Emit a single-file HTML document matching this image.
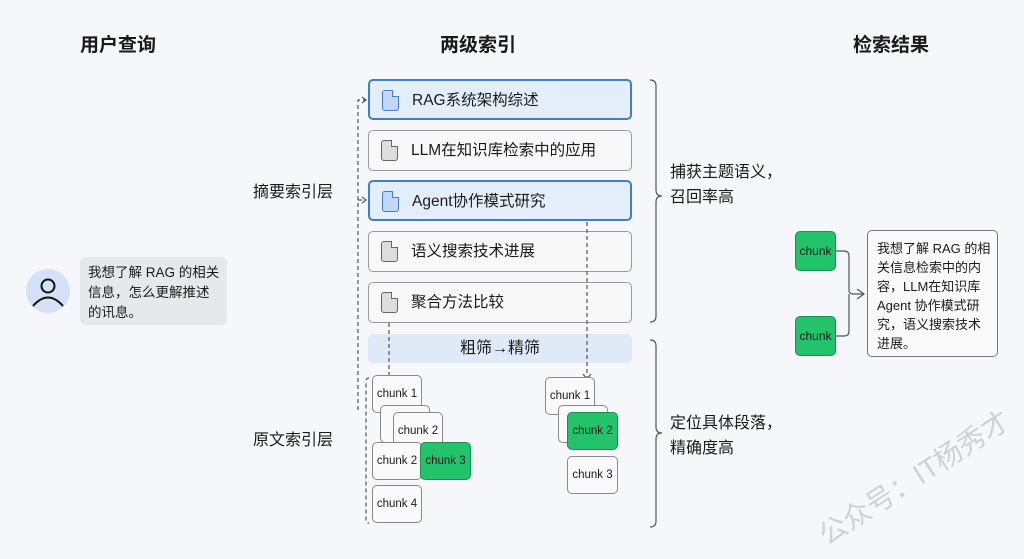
<!DOCTYPE html>
<html><head><meta charset="utf-8"><style>
*{margin:0;padding:0;box-sizing:border-box}
html{width:1024px;height:559px;overflow:hidden}
body{width:1024px;height:559px;background:#f5f7fa;position:relative;overflow:hidden;font-family:"Liberation Sans","Noto Sans CJK SC",sans-serif;color:#1a1a1a}
.a{position:absolute}
.h{font-size:19px;font-weight:bold;top:30px}
.doc{position:absolute;left:368px;width:264px;height:41px;border:1.3px solid #9a9a9a;border-radius:5px;background:#f8f8f8;font-size:15.5px;line-height:39px;padding-left:42px}
.doc.s{border:2px solid #3d7fc9;background:#e4eefb}
.doc i{position:absolute;left:12px;top:9px;width:17px;height:21px;border:1.3px solid #666;border-radius:3px;background:#ddd}
.doc.s i{background:#c4d8f4;border-color:#3d7fc9}
.doc i:after{content:"";position:absolute;right:-1px;top:-1px;width:6px;height:6px;background:#f8f8f8;border-left:1.3px solid #666;border-bottom:1.3px solid #666}
.doc.s i:after{background:#e4eefb;border-color:#3d7fc9}
.c{position:absolute;width:50px;height:38px;border:1.2px solid #8a8a8a;border-radius:5px;background:#fafafa;font-size:11.5px;line-height:36px;text-align:center}
.g{background:#22c36b;border-color:#15934f}
.t{font-size:16px;line-height:25px}
</style></head><body>
<div class="a h" style="left:80px">用户查询</div>
<div class="a h" style="left:440px">两级索引</div>
<div class="a h" style="left:853px">检索结果</div>

<div class="a" style="left:26px;top:269px;width:44px;height:44px;border-radius:50%;background:#d3e2f6"></div>
<svg class="a" style="left:26px;top:269px" width="44" height="44"><circle cx="22" cy="17" r="6.5" fill="none" stroke="#111" stroke-width="2"/><path d="M7 37 Q22 20 37 37" fill="none" stroke="#111" stroke-width="2"/></svg>
<div class="a" style="left:80px;top:257px;width:147px;height:68px;background:#e6e8ec;border-radius:6px;padding:6px 0 0 8px;font-size:13.5px;line-height:20px;white-space:nowrap">我想了解 RAG 的相关<br>信息，怎么更解推述<br>的讯息。</div>

<div class="a" style="left:253px;top:178px;font-size:16px">摘要索引层</div>
<div class="a" style="left:253px;top:426px;font-size:16px">原文索引层</div>

<div class="doc s" style="top:79px"><i></i>RAG系统架构综述</div>
<div class="doc" style="top:130px"><i></i>LLM在知识库检索中的应用</div>
<div class="doc s" style="top:180px"><i></i>Agent协作模式研究</div>
<div class="doc" style="top:231px"><i></i>语义搜索技术进展</div>
<div class="doc" style="top:282px"><i></i>聚合方法比较</div>
<div class="a" style="left:368px;top:334px;width:264px;height:29px;background:#dfeaf8;border-radius:5px;text-align:center;font-size:16px;line-height:29px">粗筛→精筛</div>

<svg class="a" style="left:0;top:0" width="1024" height="559">
<g fill="none" stroke="#555" stroke-width="1.2" stroke-dasharray="4 3">
<path d="M358 410 V100 H366"/><path d="M358 200 H366"/>
<path d="M389 323 V380"/><path d="M587 222 V378"/>
<path d="M369 378 Q366 378 366 382 V520 Q366 523 369 523"/>
</g>
<g fill="none" stroke="#555" stroke-width="1.2">
<path d="M362 97 L366 100 L362 103"/><path d="M362 197 L366 200 L362 203"/>
<path d="M385 376 L389 381 L393 376"/><path d="M583 374 L587 379 L591 374"/>
<path d="M650 80 Q656 80 656 86 V190 Q656 196 662 196 Q656 196 656 202 V316 Q656 322 650 322"/>
<path d="M650 340 Q656 340 656 346 V427 Q656 433 662 433 Q656 433 656 439 V521 Q656 527 650 527"/>
<path d="M836 251 H844 Q849 251 849 256 V290 Q849 294 853 294 H864 M849 294 Q849 298 849 302 V331 Q849 336 844 336 H836"/>
<path d="M857 289 L864 294 L857 299"/>
</g>
</svg>

<div class="a t" style="left:670px;top:160px">捕获主题语义，<br>召回率高</div>
<div class="a t" style="left:670px;top:411px">定位具体段落，<br>精确度高</div>

<div class="c" style="left:372px;top:375px">chunk 1</div>
<div class="c" style="left:380px;top:405px"></div>
<div class="c" style="left:393px;top:412px">chunk 2</div>
<div class="c" style="left:372px;top:442px">chunk 2</div>
<div class="c g" style="left:420px;top:442px;width:51px">chunk 3</div>
<div class="c" style="left:372px;top:485px">chunk 4</div>

<div class="c" style="left:545px;top:377px">chunk 1</div>
<div class="c" style="left:558px;top:405px"></div>
<div class="c g" style="left:567px;top:412px;width:51px">chunk 2</div>
<div class="c" style="left:567px;top:456px;width:51px">chunk 3</div>

<div class="c g" style="left:795px;top:231px;width:41px;height:40px;line-height:38px;font-size:12px">chunk</div>
<div class="c g" style="left:795px;top:316px;width:41px;height:40px;line-height:38px;font-size:12px">chunk</div>
<div class="a" style="left:867px;top:230px;width:131px;height:127px;border:1.3px solid #777;border-radius:5px;background:#fafafa;padding:8px 6px 0 9px;font-size:13px;line-height:19px">我想了解 RAG 的相关信息检索中的内容，LLM在知识库Agent 协作模式研究，语义搜索技术进展。</div>

<div class="a" style="left:810px;top:520px;font-size:28px;color:#cfd1d4;transform:rotate(-33deg);transform-origin:left top;white-space:nowrap">公众号：IT杨秀才</div>
</body></html>
